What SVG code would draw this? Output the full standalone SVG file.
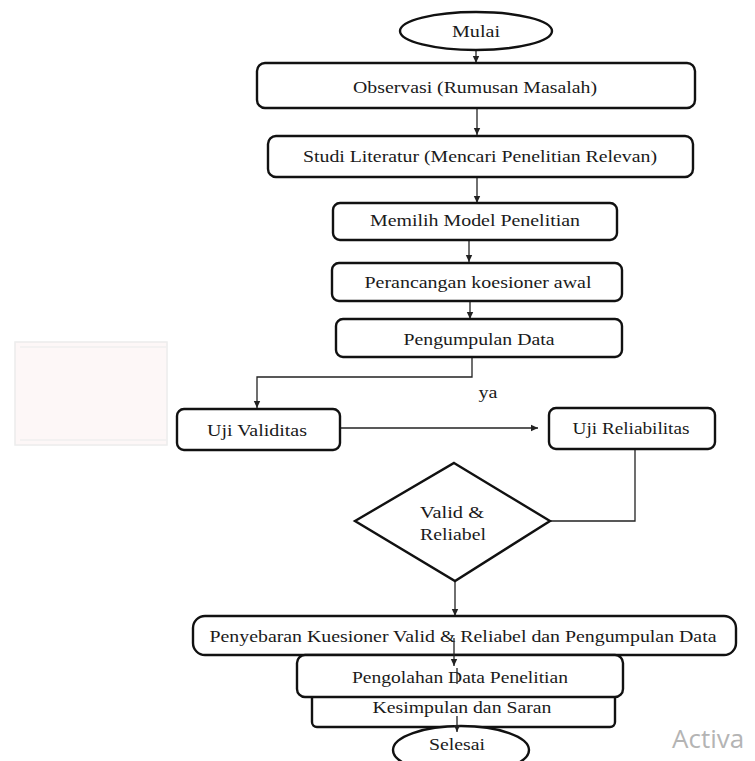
<svg xmlns="http://www.w3.org/2000/svg" width="755" height="761" viewBox="0 0 755 761">
<style>
.box{fill:#fff;stroke:#111;stroke-width:2.4}
.t{font-family:"Liberation Serif","Times New Roman",serif;font-size:16px;fill:#1a1a1a;text-anchor:middle}
.c{fill:none;stroke:#222;stroke-width:1.3}
.wm{font-family:"Open Sans","Noto Sans",sans-serif;font-size:26px;fill:#b4b4b4}
</style>
<defs>
<marker id="ah" markerWidth="8" markerHeight="8" refX="7" refY="4" orient="auto" markerUnits="userSpaceOnUse">
<path d="M0,0.8 L7,4 L0,7.2 Z" fill="#222"/>
</marker>
</defs>
<rect width="755" height="761" fill="#fff"/>
<g id="ghost">
<rect x="15" y="342" width="152" height="103" fill="#fdf7f7" stroke="#ececec" stroke-width="1.5"/>
<line x1="20" y1="347" x2="167" y2="347" stroke="#efefef" stroke-width="1.5"/>
<line x1="20" y1="440" x2="167" y2="440" stroke="#efefef" stroke-width="1.5"/>
</g>
<g id="connectors">
<line class="c" x1="476" y1="37" x2="476" y2="63" marker-end="url(#ah)"/>
<line class="c" x1="477" y1="108" x2="477" y2="135" marker-end="url(#ah)"/>
<line class="c" x1="477" y1="177" x2="477" y2="203" marker-end="url(#ah)"/>
<line class="c" x1="469" y1="240" x2="469" y2="262" marker-end="url(#ah)"/>
<line class="c" x1="470" y1="301" x2="470" y2="319" marker-end="url(#ah)"/>
<polyline class="c" points="472,357 472,377 257,377 257,408" marker-end="url(#ah)"/>
<line class="c" x1="340" y1="428" x2="538" y2="428" marker-end="url(#ah)"/>
<polyline class="c" points="635,449 635,521 550,521"/>
<line class="c" x1="455" y1="581" x2="455" y2="616" marker-end="url(#ah)"/>
</g>
<g id="mulai">
<ellipse class="box" cx="476" cy="31" rx="76" ry="19"/>
<text class="t" x="476" y="37" textLength="48" lengthAdjust="spacingAndGlyphs">Mulai</text>
</g>
<g id="observasi">
<rect class="box" x="257" y="63" width="438" height="45" rx="8"/>
<text class="t" x="475" y="93" textLength="244" lengthAdjust="spacingAndGlyphs">Observasi (Rumusan Masalah)</text>
</g>
<g id="studi">
<rect class="box" x="268" y="136" width="425" height="41" rx="8"/>
<text class="t" x="480" y="162" textLength="354" lengthAdjust="spacingAndGlyphs">Studi Literatur (Mencari Penelitian Relevan)</text>
</g>
<g id="memilih">
<rect class="box" x="333" y="203" width="284" height="37" rx="7"/>
<text class="t" x="475" y="226" textLength="210" lengthAdjust="spacingAndGlyphs">Memilih Model Penelitian</text>
</g>
<g id="perancangan">
<rect class="box" x="332" y="263" width="290" height="38" rx="7"/>
<text class="t" x="478" y="288" textLength="227" lengthAdjust="spacingAndGlyphs">Perancangan koesioner awal</text>
</g>
<g id="pengumpulan">
<rect class="box" x="336" y="319" width="286" height="38" rx="7"/>
<text class="t" x="479" y="345" textLength="151" lengthAdjust="spacingAndGlyphs">Pengumpulan Data</text>
</g>
<g id="ya-label">
<text class="t" x="488" y="398" textLength="19" lengthAdjust="spacingAndGlyphs">ya</text>
</g>
<g id="uji-validitas">
<rect class="box" x="177" y="409" width="163" height="41" rx="7"/>
<text class="t" x="257" y="436" textLength="100" lengthAdjust="spacingAndGlyphs">Uji Validitas</text>
</g>
<g id="uji-reliabilitas">
<rect class="box" x="549" y="408" width="166" height="41" rx="7"/>
<text class="t" x="631" y="434" textLength="117" lengthAdjust="spacingAndGlyphs">Uji Reliabilitas</text>
</g>
<g id="valid-reliabel">
<polygon class="box" points="454,463 550,521 455,581 355,521"/>
<text class="t" x="452" y="518" textLength="64" lengthAdjust="spacingAndGlyphs">Valid &amp;</text>
<text class="t" x="453" y="540" textLength="66" lengthAdjust="spacingAndGlyphs">Reliabel</text>
</g>
<g id="penyebaran">
<rect class="box" x="193" y="616" width="543" height="39" rx="12"/>
<text class="t" x="463" y="642" textLength="507" lengthAdjust="spacingAndGlyphs">Penyebaran Kuesioner Valid &amp; Reliabel dan Pengumpulan Data</text>
</g>
<g id="kesimpulan">
<rect class="box" x="312" y="690" width="303" height="37" rx="5"/>
<text class="t" x="462" y="713" textLength="179" lengthAdjust="spacingAndGlyphs">Kesimpulan dan Saran</text>
</g>
<g id="pengolahan">
<rect class="box" x="297" y="655" width="326" height="42" rx="8"/>
<text class="t" x="460" y="683" textLength="216" lengthAdjust="spacingAndGlyphs">Pengolahan Data Penelitian</text>
</g>
<g id="selesai">
<ellipse class="box" cx="461" cy="750" rx="68" ry="24"/>
<text class="t" x="457" y="750" textLength="56" lengthAdjust="spacingAndGlyphs">Selesai</text>
</g>
<g id="connectors-lower">
<line class="c" x1="454" y1="638" x2="454" y2="666" marker-end="url(#ah)"/>
<line class="c" x1="457" y1="668" x2="457" y2="684"/>
<line class="c" x1="457" y1="716" x2="457" y2="732" marker-end="url(#ah)"/>
</g>
<text class="wm" x="672" y="748">Activa</text>
</svg>
